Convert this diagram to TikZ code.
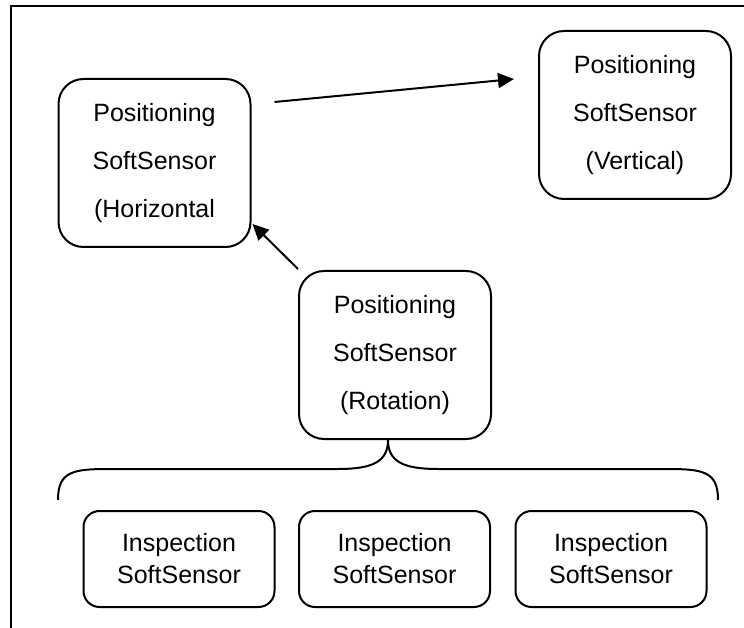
\documentclass[tikz,border=0pt]{standalone}
\usepackage{fontspec}
\setmainfont{Liberation Sans}
\usetikzlibrary{arrows.meta}

\begin{document}
\begin{tikzpicture}[
        x=1pt,
        y=-1pt,
        sensor/.style={
            rectangle,
            rounded corners=25pt,
            draw,
            line width=2pt,
            minimum width=192pt,
            minimum height=168pt,
            inner sep=0pt,
            align=center,
            font={\fontsize{25}{48}\selectfont}
        },
        inspect/.style={
            rectangle,
            rounded corners=16pt,
            draw,
            line width=2pt,
            minimum width=191pt,
            minimum height=96pt,
            inner sep=0pt,
            align=center,
            font={\fontsize{25}{32}\selectfont}
        },
        link/.style={line width=2pt, -{Triangle[length=16pt,width=15pt]}},
        brace/.style={line width=2pt}
    ]
    \useasboundingbox (0,0) rectangle (744,628);
    % Frame
    \draw[line width=2pt] (10.5,628) -- (10.5,6.5) -- (744,6.5);

    % Positioning sensors
    \node[sensor] (hor) at (154.5,163) {Positioning\\SoftSensor\\(Horizontal};
    \node[sensor] (ver) at (635,115) {Positioning\\SoftSensor\\(Vertical)};
    \node[sensor] (rot) at (395,355) {Positioning\\SoftSensor\\(Rotation)};

    \draw[link] ([shift={(23pt,61pt)}]hor.east) -- ([shift={(-24pt,36pt)}]ver.west);
    \draw[link] ([yshift=1pt]rot.north west) -- ([shift={(1pt,-61pt)}]hor.east);

    % Inspection sensors
    \node[inspect] (insA) at (179,559) {Inspection\\SoftSensor};
    \node[inspect] (insB) at (394.5,559) {Inspection\\SoftSensor};
    \node[inspect] (insC) at (611,559) {Inspection\\SoftSensor};

    % Brace
    \coordinate (bl) at (58,500);
    \coordinate (br) at (718,500);
    \draw[brace] (bl) .. controls (58,472) and (72,469) .. (108,469) -- (338,469)
        .. controls (372,469) and (388,462) .. ([xshift=-7pt]rot.south)
        .. controls (388,462) and (404,469) .. (438,469) -- (668,469)
        .. controls (704,469) and (718,472) .. (br);
    \end{tikzpicture}
\end{document}
